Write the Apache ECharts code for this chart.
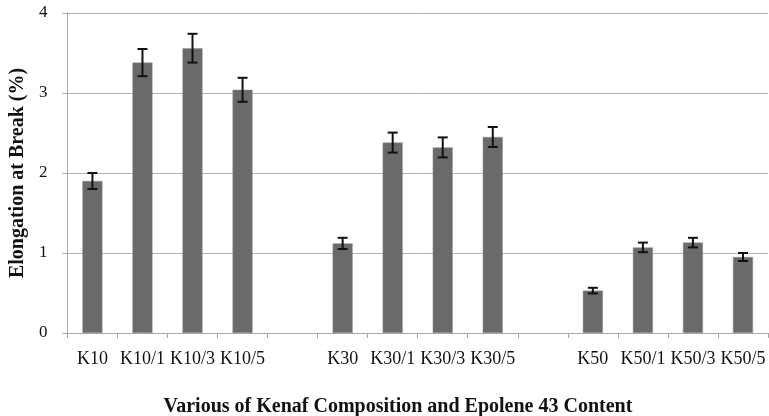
<!DOCTYPE html>
<html>
<head>
<meta charset="utf-8">
<script src="https://cdn.jsdelivr.net/npm/echarts@6/dist/echarts.min.js"></script>
<style>
  html, body { margin: 0; padding: 0; background: #fff; }
  #main { width: 769px; height: 416px; }
</style>
</head>
<body>
<div id="main"></div>
<script>
// empty strings are the spacer slots between the groups
var categories = ['K10', 'K10/1', 'K10/3', 'K10/5', '',
                  'K30', 'K30/1', 'K30/3', 'K30/5', '',
                  'K50', 'K50/1', 'K50/3', 'K50/5'];
var elongation = [1.90, 3.38, 3.56, 3.04, '-',
                  1.12, 2.38, 2.32, 2.45, '-',
                  0.53, 1.07, 1.13, 0.95];
var errors = [0.10, 0.17, 0.18, 0.15, null,
              0.07, 0.125, 0.125, 0.125, null,
              0.035, 0.06, 0.06, 0.05];
var yTicks = [0, 1, 2, 3, 4];

var errorData = [];
categories.forEach(function (c, i) {
    if (errors[i] == null) return;
    errorData.push([i, elongation[i] - errors[i], elongation[i] + errors[i]]);
});

var serif = '"Liberation Serif", "Times New Roman", serif';
var chart = echarts.init(document.getElementById('main'));

var option = {
    animation: false,
    backgroundColor: '#ffffff',
    grid: { left: 67, right: 1, top: 13, bottom: 83 },
    title: {
        text: 'Various of Kenaf Composition and Epolene 43 Content',
        left: 393,
        top: 392,
        textAlign: 'center',
        textStyle: { fontFamily: serif, fontSize: 20, fontWeight: 'bold', color: '#111' }
    },
    xAxis: {
        type: 'category',
        data: categories,
        axisLine: { show: true, lineStyle: { color: '#a8a8a8', width: 1 } },
        axisTick: { show: true, interval: 0, length: 5, lineStyle: { color: '#a8a8a8' } },
        axisLabel: { interval: 0, margin: 17, fontFamily: serif, fontSize: 18, color: '#111' },
        splitLine: { show: false }
    },
    yAxis: {
        type: 'value',
        min: yTicks[0],
        max: yTicks[yTicks.length - 1],
        interval: 1,
        name: 'Elongation at Break (%)',
        nameLocation: 'middle',
        nameGap: 33,
        nameRotate: 90,
        nameTextStyle: { fontFamily: serif, fontSize: 20, fontWeight: 'bold', color: '#111' },
        axisLine: { show: true, lineStyle: { color: '#a8a8a8', width: 1 } },
        axisTick: { show: true, length: 5, lineStyle: { color: '#a8a8a8' } },
        axisLabel: { margin: 20, fontFamily: serif, fontSize: 17, color: '#111' },
        splitLine: { show: true, lineStyle: { color: '#b4b4b4', width: 1 } }
    },
    series: [
        {
            type: 'bar',
            data: elongation,
            barWidth: 20,
            itemStyle: { color: '#6a6a6a', borderColor: '#8c8c8c', borderWidth: 0.5 }
        },
        {
            type: 'custom',
            data: errorData,
            z: 5,
            renderItem: function (params, api) {
                var lo = api.coord([api.value(0), api.value(1)]);
                var hi = api.coord([api.value(0), api.value(2)]);
                var half = 5;
                var style = { stroke: '#111', lineWidth: 2 };
                return {
                    type: 'group',
                    children: [
                        { type: 'line', shape: { x1: hi[0], y1: hi[1], x2: lo[0], y2: lo[1] }, style: style },
                        { type: 'line', shape: { x1: hi[0] - half, y1: hi[1], x2: hi[0] + half, y2: hi[1] }, style: style },
                        { type: 'line', shape: { x1: lo[0] - half, y1: lo[1], x2: lo[0] + half, y2: lo[1] }, style: style }
                    ]
                };
            }
        }
    ]
};
chart.setOption(option);
</script>
</body>
</html>
